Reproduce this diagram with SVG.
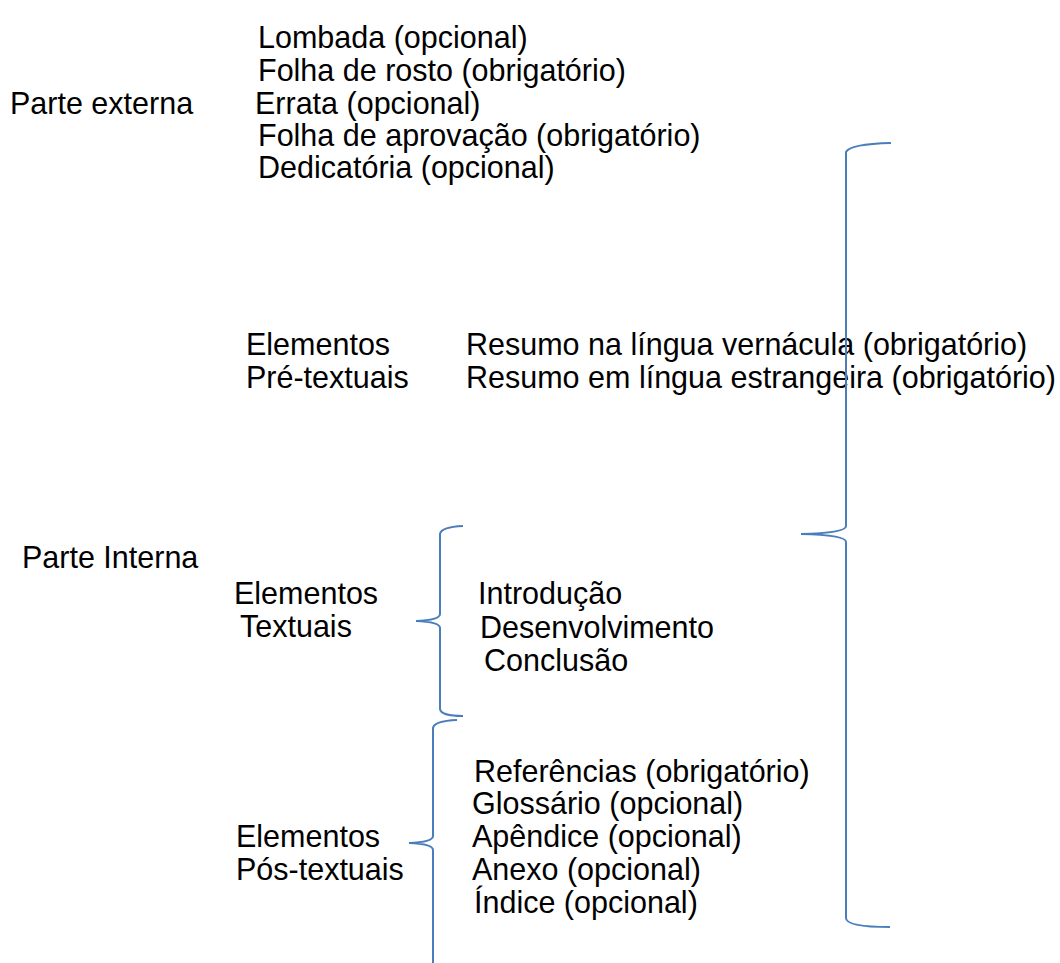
<svg xmlns="http://www.w3.org/2000/svg" width="1060" height="963" viewBox="0 0 1060 963">
<style>
text{font-family:"Liberation Sans",Arial,sans-serif;font-size:30.5px;fill:#000}
.br{fill:none;stroke:#4a7ebb;stroke-width:2}
</style>
<rect width="1060" height="963" fill="#fff"/>
<g id="parte-externa">
<text x="10" y="114">Parte externa</text>
</g>
<g id="itens-externa">
<text x="258" y="48">Lombada (opcional)</text>
<text x="258" y="81">Folha de rosto (obrigatório)</text>
<text x="255" y="114">Errata (opcional)</text>
<text x="258" y="146">Folha de aprovação (obrigatório)</text>
<text x="258" y="178">Dedicatória (opcional)</text>
</g>
<g id="pre-textuais">
<text x="246" y="355">Elementos</text>
<text x="246" y="388">Pré-textuais</text>
</g>
<g id="itens-pre">
<text x="466" y="355">Resumo na língua vernácula (obrigatório)</text>
<text x="466" y="388">Resumo em língua estrangeira (obrigatório)</text>
</g>
<g id="parte-interna">
<text x="22" y="568">Parte Interna</text>
</g>
<g id="textuais">
<text x="234" y="604">Elementos</text>
<text x="240" y="637">Textuais</text>
</g>
<g id="itens-textuais">
<text x="478" y="604">Introdução</text>
<text x="480" y="638">Desenvolvimento</text>
<text x="484" y="671">Conclusão</text>
</g>
<g id="pos-textuais">
<text x="236" y="847">Elementos</text>
<text x="236" y="880">Pós-textuais</text>
</g>
<g id="itens-pos">
<text x="474" y="782">Referências (obrigatório)</text>
<text x="472" y="814">Glossário (opcional)</text>
<text x="472" y="847">Apêndice (opcional)</text>
<text x="472" y="880">Anexo (opcional)</text>
<text x="474" y="913">Índice (opcional)</text>
</g>
<g id="connectors">
<path class="br" d="M891,143 Q850,144 846,152 L846,526 Q846,533 801,534 Q846,535 846,542 L846,918 Q846,927 890,927"/>
<path class="br" d="M463,526 Q441,527 440,534 L440,614 Q440,620 416,621 Q440,622 440,628 L440,709 Q441,716 463,716"/>
<path class="br" d="M457,720 Q434,721 433,728 L433,836 Q433,842 409,843 Q433,844 433,850 L433,963"/>
</g>
</svg>
